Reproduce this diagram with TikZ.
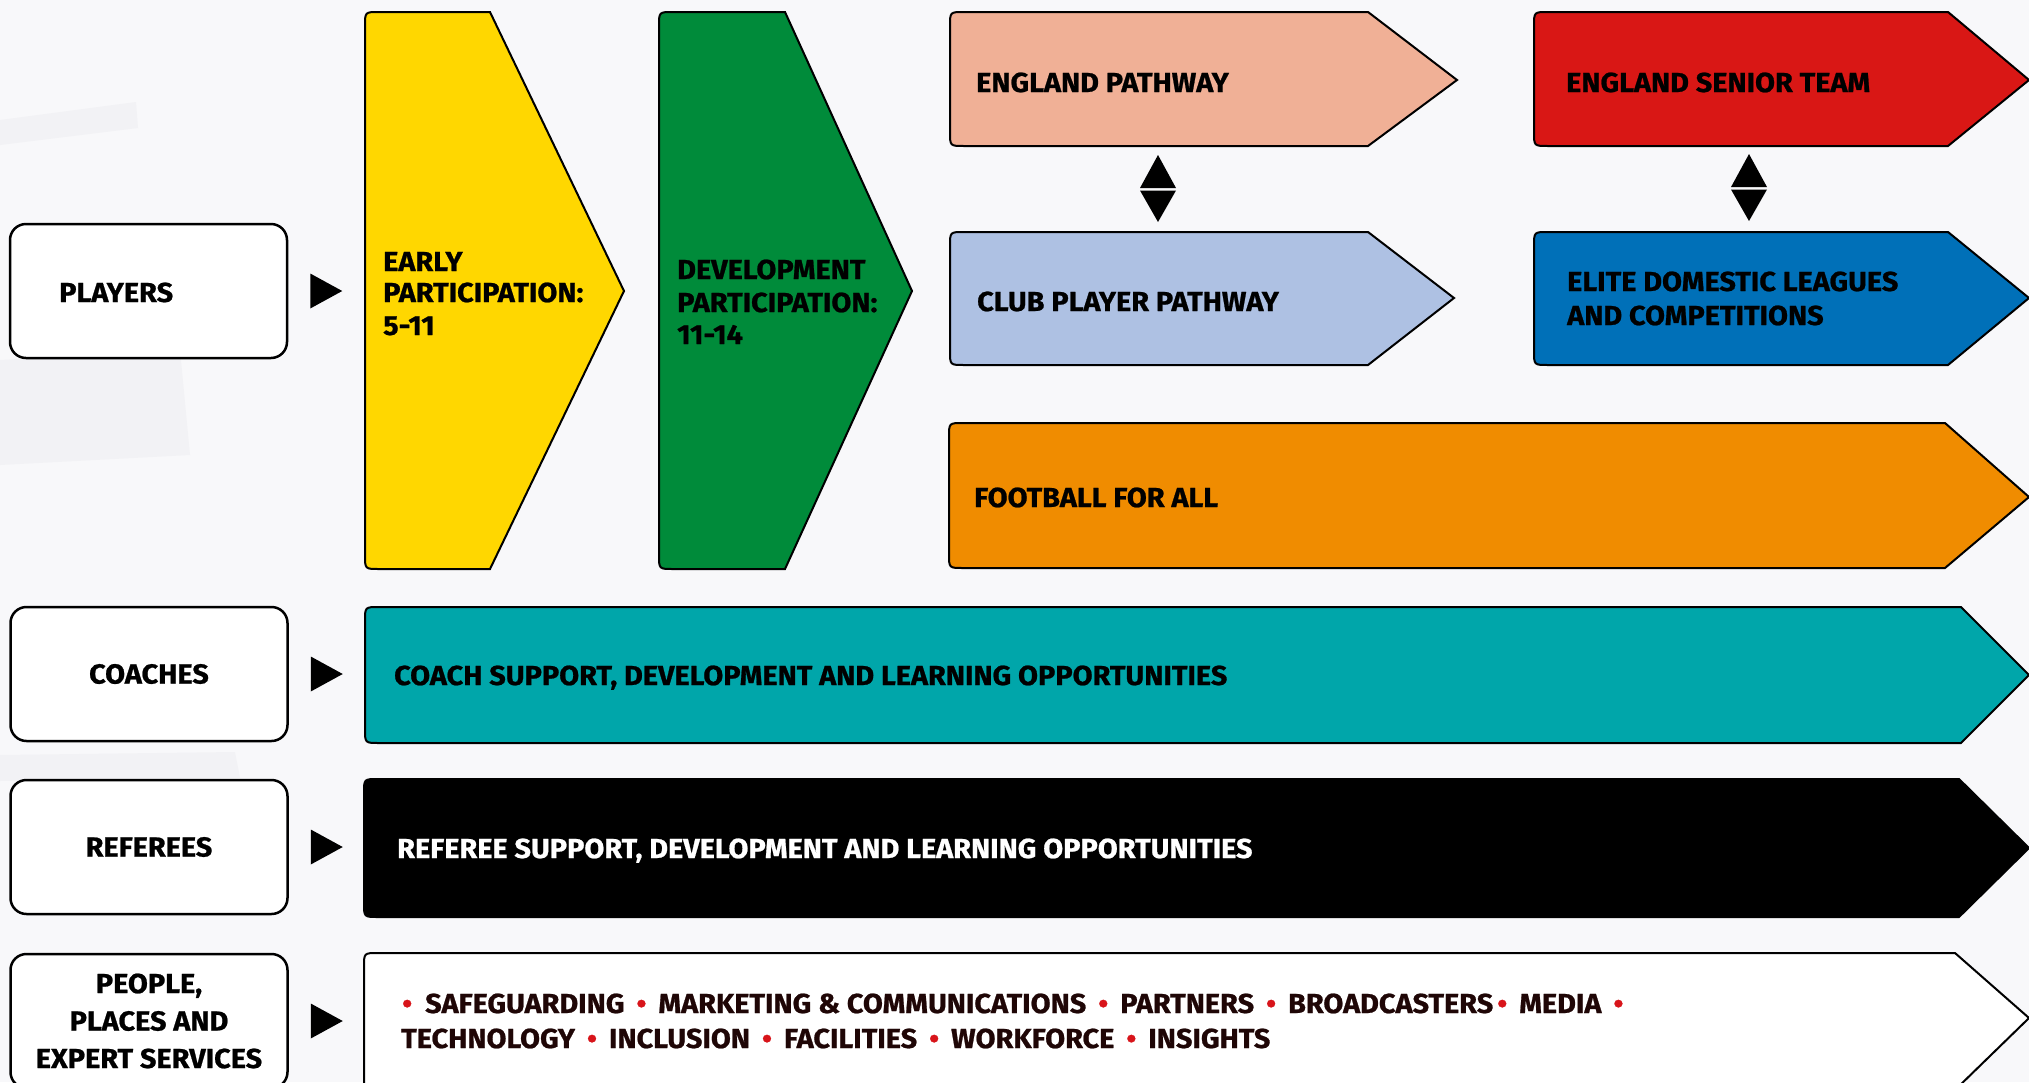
\documentclass[tikz,border=0pt]{standalone}
\usepackage{fontspec}
\setmainfont{Fira Sans}[BoldFeatures={FakeStretch=1.05,FakeBold=0.8}]
\definecolor{bgc}{HTML}{F8F8FA}
\definecolor{bgd}{HTML}{F2F2F5}
\definecolor{cyellow}{HTML}{FFD700}
\definecolor{cgreen}{HTML}{008B3A}
\definecolor{csalmon}{HTML}{F0B096}
\definecolor{cred}{HTML}{D91715}
\definecolor{clight}{HTML}{AEC1E3}
\definecolor{cblue}{HTML}{0070B8}
\definecolor{corange}{HTML}{F08C00}
\definecolor{cteal}{HTML}{00A6AA}
\definecolor{cdark}{HTML}{1F0606}
\definecolor{cbul}{HTML}{D8141A}

\newcommand\lblfont{\fontsize{27.5}{32}\selectfont\bfseries}
\newcommand\bul{\textcolor{cbul}{•}}
\newcommand\bsep{\hspace{12pt}\bul\hspace{12pt}}

\tikzset{
  chev/.style={draw=black, line width=2pt, line join=miter},
  lbox/.style={draw=black, fill=white, line width=2.5pt, rounded corners=16pt,
    minimum width=277pt, minimum height=134pt, inner sep=0pt, font=\lblfont, align=center},
  lbl/.style={font=\lblfont, inner sep=0pt, anchor=base west},
  marker/.style={fill=black},
}

% #1 name, #2 fill, #3 x left, #4 y top, #5 x where the point starts, #6 x tip, #7 y tip, #8 y bottom
\newcommand\chevron[8]{%
  \draw[chev, fill=#2] (#5,#4) -- ({#3+14},#4) .. controls (#3,#4) .. (#3,{#4+14})
    -- (#3,{#8-14}) .. controls (#3,#8) .. ({#3+14},#8) -- (#5,#8) -- (#6,#7) -- cycle;
  \coordinate (#1) at (#3,#7);
}

\begin{document}
\begin{tikzpicture}[x=1pt, y=-1pt]
\fill[bgc] (0,0) rectangle (2029,1082);
\useasboundingbox (0,0) rectangle (2029,1082);
\clip (0,0) rectangle (2029,1082);
% faint background texture
\fill[bgd] (0,120) -- (136,102) -- (138,128) -- (0,145) -- cycle;
\fill[bgd] (0,360) -- (180,350) -- (190,455) -- (0,465) -- cycle;
\fill[bgd] (0,755) -- (235,752) -- (240,778) -- (0,781) -- cycle;

% left boxes
\node[lbox] (players) at (148.5,291) {};
\node[lbl] (playerst) at (59,302) {PLAYERS};
\node[lbox] (coaches) at (149,674) {COACHES};
\node[lbox] (referees) at (149,847) {REFEREES};
\node[lbox, font=\fontsize{27.5}{37.5}\selectfont\bfseries] (people) at (149,1021) {PEOPLE,\\PLACES AND\\EXPERT SERVICES};

\foreach \n in {players,coaches,referees,people}
  \fill[marker] ([xshift=22pt,yshift=17.5pt]\n.east) -- ++(0,35) -- ++(32,-17.5) -- cycle;

% player stages
\chevron{early}{cyellow}{365}{12}{490}{624}{291}{569}
\node[lbl] (early1) at (383,271) {EARLY};
\node[lbl] (early2) at (383,302) {PARTICIPATION:};
\node[lbl] (early3) at (383,335) {5-11};

\chevron{dev}{cgreen}{659}{12}{785}{912}{291}{569}
\node[lbl] (dev1) at (677,279) {DEVELOPMENT};
\node[lbl] (dev2) at (677,312) {PARTICIPATION:};
\node[lbl] (dev3) at (677,344) {11-14};

\chevron{engp}{csalmon}{950}{12}{1368}{1457}{80}{146}
\node[lbl] (engpt) at (976,92) {ENGLAND PATHWAY};

\chevron{senior}{cred}{1534}{12}{1948}{2029}{80}{146}
\node[lbl] (seniort) at (1566,92) {ENGLAND SENIOR TEAM};

\chevron{club}{clight}{950}{232}{1368}{1454}{298}{365}
\node[lbl] (clubt) at (977,311) {CLUB PLAYER PATHWAY};

\chevron{elite}{cblue}{1534}{232}{1948}{2029}{298}{365}
\node[lbl] (elite1) at (1567,291) {ELITE DOMESTIC LEAGUES};
\node[lbl] (elite2) at (1567,325) {AND COMPETITIONS};

\chevron{ffa}{corange}{949}{423}{1945}{2029}{497}{568}
\node[lbl] (ffat) at (974,507) {FOOTBALL FOR ALL};

% double arrows
\fill[marker] (1158,155) -- (1176,188) -- (1140,188) -- cycle;
\fill[marker] (1140,190.5) -- (1176,190.5) -- (1158,222) -- cycle;
\fill[marker] (1749,154) -- (1767,187) -- (1731,187) -- cycle;
\fill[marker] (1731,189.5) -- (1767,189.5) -- (1749,221) -- cycle;

% coaches, referees, services
\chevron{coach}{cteal}{365}{607}{1961}{2029}{675}{743}
\node[lbl] (coacht) at (394,685) {COACH SUPPORT, DEVELOPMENT AND LEARNING OPPORTUNITIES};

\chevron{ref}{black}{364}{779}{1959}{2029}{848}{917}
\node[lbl, text=white] (reft) at (397,858) {REFEREE SUPPORT, DEVELOPMENT AND LEARNING OPPORTUNITIES};

\chevron{ppl}{white}{364}{953}{1955}{2029}{1018}{1090}
\node[lbl, text=cdark] (ppl1) at (402,1013) {\bul\hspace{13pt}SAFEGUARDING\bsep MARKETING \& COMMUNICATIONS\bsep PARTNERS\bsep BROADCASTERS\hspace{4pt}\bul\hspace{12pt}MEDIA\bsep};
\node[lbl, text=cdark] (ppl2) at (401,1048) {TECHNOLOGY\bsep INCLUSION\bsep FACILITIES\bsep WORKFORCE\bsep INSIGHTS};
\end{tikzpicture}
\end{document}
